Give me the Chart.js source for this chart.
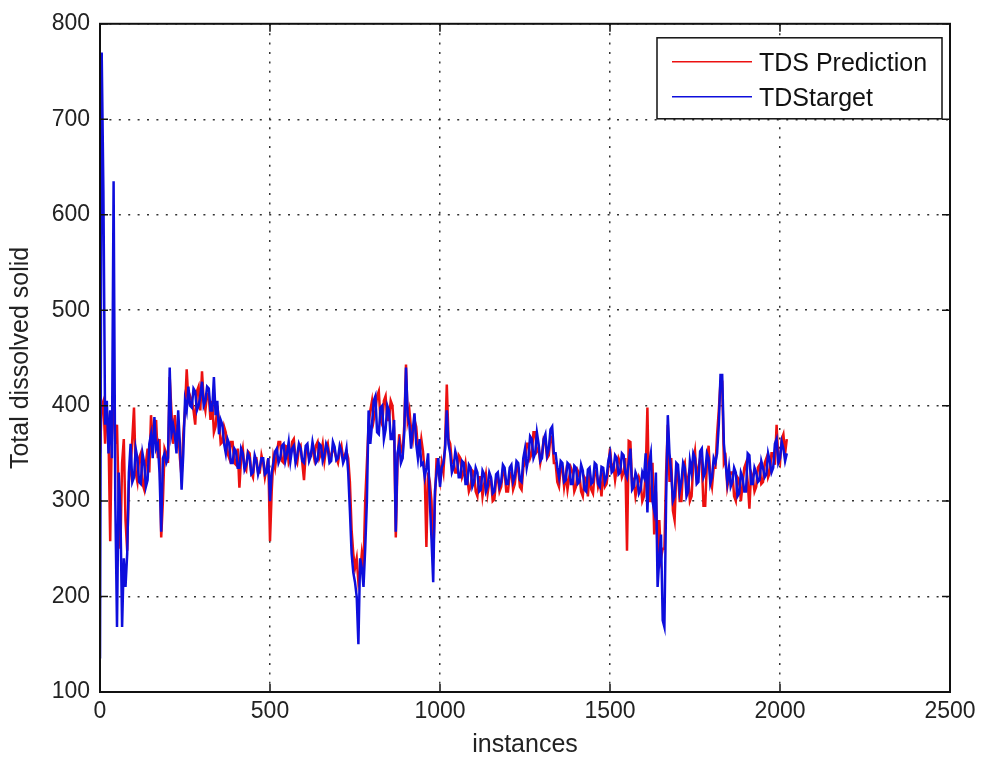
<!DOCTYPE html>
<html>
<head>
<meta charset="utf-8">
<script src="https://cdn.jsdelivr.net/npm/chart.js@4.4.1/dist/chart.umd.min.js"></script>
<style>
html, body { margin: 0; padding: 0; background: #fff; }
#wrap { width: 984px; height: 763px; }
</style>
</head>
<body>
<div id="wrap"><canvas id="tdsChart"></canvas></div>
<script>
// samples every 5 instances (0 .. 2020), one row per 100 instances
const STEP = 5;

const prediction = [
    350, 400, 405, 360, 395, 370, 258, 380, 400, 360, 380, 300, 250, 340, 365, 280, 248, 320, 335, 365,
    398, 330, 320, 345, 350, 318, 312, 340, 355, 330, 390, 365, 372, 385, 345, 365, 262, 300, 355, 350,
    340, 430, 395, 360, 390, 370, 378, 345, 325, 370, 395, 438, 405, 410, 405, 395, 380, 415, 420, 395,
    436, 405, 395, 412, 410, 385, 405, 372, 378, 400, 385, 360, 362, 378, 372, 350, 345, 362, 362, 340,
    338, 355, 314, 345, 355, 335, 332, 352, 350, 330, 325, 345, 345, 330, 330, 348, 340, 325, 335, 345,
    258, 310, 345, 335, 350, 362, 362, 342, 340, 358, 357, 340, 345, 362, 365, 345, 340, 355, 358, 340,
    322, 350, 355, 345, 350, 355, 345, 358, 362, 345, 350, 360, 342, 355, 360, 345, 348, 355, 352, 345,
    340, 352, 358, 345, 348, 352, 345, 320, 270, 245, 230, 240, 215, 225, 245, 230, 300, 340, 380, 395,
    405, 385, 395, 410, 415, 385, 380, 405, 410, 385, 385, 405, 400, 375, 262, 340, 370, 355, 350, 380,
    443, 385, 395, 375, 365, 385, 378, 355, 350, 365, 352, 330, 252, 330, 320, 300, 240, 300, 345, 330,
    320, 340, 330, 360, 422, 365, 360, 340, 342, 330, 330, 348, 345, 325, 330, 340, 325, 310, 315, 332,
    330, 310, 305, 325, 325, 305, 318, 328, 308, 320, 322, 300, 302, 322, 325, 310, 315, 332, 330, 310,
    310, 328, 330, 312, 318, 336, 335, 315, 312, 335, 340, 360, 360, 345, 350, 372, 372, 352, 355, 340,
    350, 365, 362, 345, 348, 368, 365, 340, 340, 320, 315, 335, 335, 315, 328, 312, 325, 335, 330, 310,
    315, 332, 328, 310, 305, 325, 322, 305, 330, 312, 308, 330, 332, 315, 322, 305, 330, 315, 318, 335,
    355, 335, 338, 322, 335, 345, 340, 325, 330, 345, 248, 363, 362, 318, 322, 305, 315, 325, 320, 300,
    305, 330, 398, 300, 300, 340, 265, 310, 245, 280, 240, 250, 250, 330, 380, 320, 345, 290, 280, 330,
    330, 300, 300, 335, 340, 315, 325, 300, 305, 340, 352, 325, 335, 345, 340, 295, 295, 340, 358, 325,
    315, 335, 335, 370, 395, 425, 425, 340, 345, 315, 325, 330, 330, 305, 300, 325, 322, 300, 318, 335,
    340, 320, 292, 330, 325, 310, 315, 335, 338, 318, 320, 340, 345, 325, 330, 350, 350, 338, 380, 345,
    340, 365, 370, 350, 365
];

const target = [
    135, 770, 625, 380, 405, 350, 395, 345, 635, 300, 168, 330, 290, 168, 240, 210, 245, 330, 360, 320,
    325, 355, 345, 320, 318, 350, 340, 315, 322, 360, 370, 345, 388, 355, 360, 330, 268, 345, 350, 340,
    345, 440, 370, 380, 370, 350, 395, 360, 312, 350, 405, 395, 420, 400, 398, 418, 415, 395, 400, 410,
    425, 400, 405, 420, 418, 395, 395, 430, 390, 405, 370, 385, 380, 360, 350, 365, 360, 340, 340, 355,
    352, 335, 335, 355, 350, 333, 338, 350, 345, 328, 330, 348, 342, 328, 335, 345, 345, 328, 330, 345,
    300, 330, 340, 352, 355, 340, 345, 358, 360, 342, 350, 362, 342, 355, 358, 340, 348, 360, 355, 342,
    340, 358, 360, 342, 347, 362, 352, 340, 343, 360, 358, 342, 348, 360, 355, 340, 342, 362, 357, 343,
    345, 358, 352, 340, 345, 355, 330, 290, 245, 225, 215, 200, 150, 240, 230, 210, 250, 300, 395, 360,
    380, 405, 410, 372, 370, 398, 400, 365, 375, 400, 395, 365, 365, 385, 268, 350, 360, 340, 345, 372,
    440, 390, 380, 355, 375, 392, 360, 345, 365, 338, 340, 325, 335, 350, 300, 260, 215, 310, 330, 345,
    315, 335, 340, 355, 395, 360, 350, 330, 335, 352, 345, 325, 325, 342, 340, 318, 318, 338, 335, 315,
    320, 335, 330, 310, 312, 332, 328, 310, 315, 330, 325, 308, 310, 328, 330, 315, 320, 338, 335, 318,
    318, 335, 338, 320, 325, 342, 340, 322, 320, 345, 355, 335, 345, 368, 365, 345, 350, 372, 360, 342,
    345, 365, 370, 348, 355, 375, 378, 350, 350, 335, 325, 342, 340, 320, 322, 340, 338, 318, 318, 337,
    335, 318, 320, 338, 332, 312, 310, 333, 335, 318, 320, 340, 338, 318, 315, 336, 335, 320, 325, 342,
    350, 330, 332, 348, 345, 328, 330, 350, 348, 330, 325, 340, 355, 312, 315, 330, 325, 308, 312, 330,
    325, 350, 288, 340, 350, 300, 290, 330, 210, 240, 265, 175, 168, 300, 390, 350, 330, 300, 305, 340,
    338, 310, 320, 340, 335, 305, 310, 342, 330, 350, 345, 318, 320, 352, 355, 325, 330, 350, 345, 318,
    325, 345, 340, 350, 380, 432, 432, 360, 340, 320, 335, 315, 320, 335, 330, 305, 308, 330, 325, 310,
    310, 350, 348, 318, 318, 335, 330, 320, 322, 342, 335, 325, 328, 350, 342, 330, 335, 360, 365, 340,
    345, 362, 355, 342, 350
];

const instances = target.map((_, i) => i * STEP);

const xTicks = [0, 500, 1000, 1500, 2000, 2500];
const yTicks = [100, 200, 300, 400, 500, 600, 700, 800];

const seriesNames = ['TDS Prediction', 'TDStarget'];
const seriesColors = ['#ec1010', '#0e0edc'];

const FONT = "'Liberation Sans', Arial, sans-serif";
const TICK = 8;

// matlab style box, inward ticks on all four sides and the boxed legend
const matlabFrame = {
    id: 'matlabFrame',
    afterDatasetsDraw(chart) {
        const { ctx, chartArea: a, scales: { x, y } } = chart;
        ctx.save();
        ctx.strokeStyle = '#111';
        ctx.lineWidth = 1.5;
        ctx.beginPath();
        xTicks.forEach(v => {
            const px = x.getPixelForValue(v);
            ctx.moveTo(px, a.top); ctx.lineTo(px, a.top + TICK);
            ctx.moveTo(px, a.bottom); ctx.lineTo(px, a.bottom - TICK);
        });
        yTicks.forEach(v => {
            const py = y.getPixelForValue(v);
            ctx.moveTo(a.left, py); ctx.lineTo(a.left + TICK, py);
            ctx.moveTo(a.right, py); ctx.lineTo(a.right - TICK, py);
        });
        ctx.stroke();
        ctx.lineWidth = 2;
        ctx.strokeRect(a.left, a.top, a.right - a.left, a.bottom - a.top);

        // legend
        const lw = 285, lh = 81;
        const lx = a.right - 8 - lw, ly = a.top + 14;
        ctx.fillStyle = '#fff';
        ctx.fillRect(lx, ly, lw, lh);
        ctx.lineWidth = 1.5;
        ctx.strokeStyle = '#111';
        ctx.strokeRect(lx, ly, lw, lh);
        ctx.font = '25px ' + FONT;
        ctx.textBaseline = 'alphabetic';
        ctx.textAlign = 'left';
        seriesNames.forEach((name, i) => {
            const cy = ly + 24 + i * 35;
            ctx.strokeStyle = seriesColors[i];
            ctx.lineWidth = 1.5;
            ctx.beginPath();
            ctx.moveTo(lx + 15, cy);
            ctx.lineTo(lx + 95, cy);
            ctx.stroke();
            ctx.fillStyle = '#111';
            ctx.fillText(name, lx + 102, cy + 9);
        });
        ctx.restore();
    }
};

const data = {
    datasets: [
        {
            label: seriesNames[0],
            data: instances.map((t, i) => ({ x: t, y: prediction[i] })),
            borderColor: seriesColors[0],
            backgroundColor: seriesColors[0],
            borderWidth: 2.5,
            pointRadius: 0,
            tension: 0,
            order: 2
        },
        {
            label: seriesNames[1],
            data: instances.map((t, i) => ({ x: t, y: target[i] })),
            borderColor: seriesColors[1],
            backgroundColor: seriesColors[1],
            borderWidth: 2.5,
            pointRadius: 0,
            tension: 0,
            order: 1
        }
    ]
};

const gridStyle = { color: '#333', lineWidth: 1.5, drawTicks: false };
const borderStyle = { display: false, dash: [2, 7.4] };

const config = {
    type: 'line',
    data: data,
    options: {
        responsive: true,
        maintainAspectRatio: false,
        animation: false,
        layout: { padding: { top: 22, right: 34, bottom: 0, left: 0 } },
        scales: {
            x: {
                type: 'linear',
                min: 0,
                max: 2500,
                afterFit: s => { s.height = 71; },
                afterBuildTicks: s => { s.ticks = xTicks.map(v => ({ value: v })); },
                ticks: { padding: 6, color: '#222', font: { family: FONT, size: 23 }, maxRotation: 0, callback: v => String(v) },
                grid: gridStyle,
                border: borderStyle,
                title: { display: true, text: 'instances', color: '#222', font: { family: FONT, size: 25 }, padding: { top: 0, bottom: 3 } }
            },
            y: {
                min: 100,
                max: 800,
                afterFit: s => { s.width = 100; },
                afterBuildTicks: s => { s.ticks = yTicks.map(v => ({ value: v })); },
                ticks: { padding: 10, color: '#222', font: { family: FONT, size: 23 }, callback: v => String(v) },
                grid: gridStyle,
                border: borderStyle,
                title: { display: true, text: 'Total dissolved solid', color: '#222', font: { family: FONT, size: 25 }, padding: { top: 6, bottom: 0 } }
            }
        },
        plugins: {
            legend: { display: false },
            tooltip: { enabled: false }
        }
    },
    plugins: [matlabFrame]
};

new Chart(document.getElementById('tdsChart'), config);
</script>
</body>
</html>
